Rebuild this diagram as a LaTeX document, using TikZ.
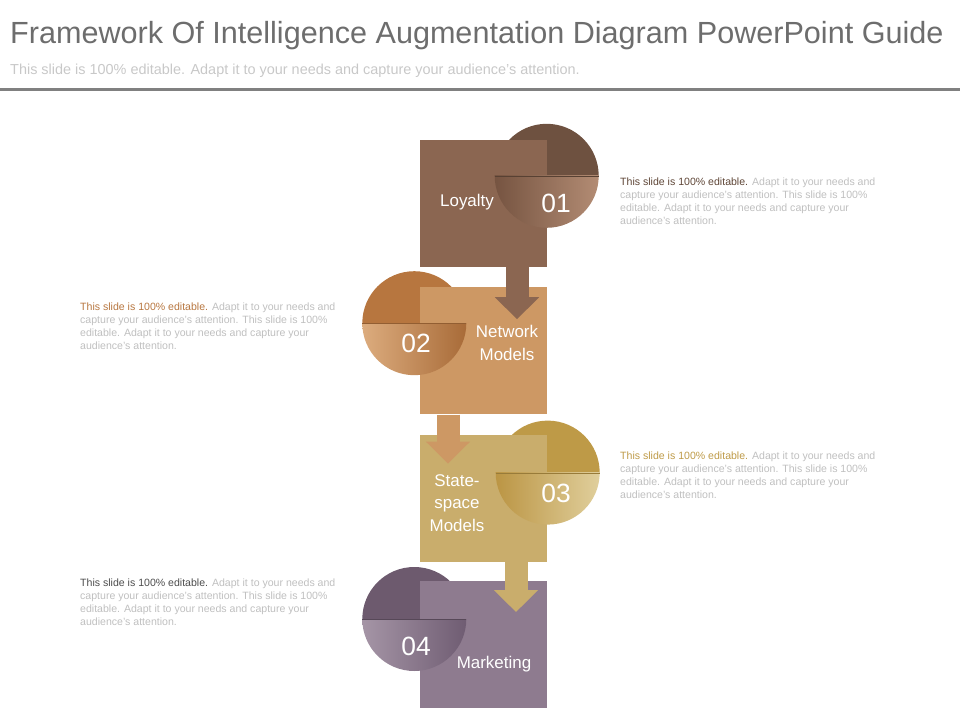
\documentclass[tikz,border=0pt]{standalone}
\usepackage{fontspec}
\setmainfont{Liberation Sans}
\usepackage{xcolor}
\usetikzlibrary{arrows.meta,backgrounds,calc,positioning}

\definecolor{titlegray}{HTML}{6D6D6D}
\definecolor{subgray}{HTML}{C8C8C8}
\definecolor{notegray}{HTML}{BFBFBF}
\definecolor{rulegray}{HTML}{808080}
\definecolor{loyal}{HTML}{8B6651}
\definecolor{loyaldark}{HTML}{6E5140}
\definecolor{loyallight}{HTML}{B38C74}
\definecolor{loyalshade}{HTML}{765441}
\definecolor{network}{HTML}{CD9864}
\definecolor{networkdark}{HTML}{B7763F}
\definecolor{networklight}{HTML}{DCAC7E}
\definecolor{networkshade}{HTML}{A86B38}
\definecolor{state}{HTML}{C9AD6C}
\definecolor{statedark}{HTML}{BE9A47}
\definecolor{statelight}{HTML}{E0CF9C}
\definecolor{stateshade}{HTML}{BB9544}
\definecolor{market}{HTML}{8E7B8F}
\definecolor{marketdark}{HTML}{6D5A6E}
\definecolor{marketlight}{HTML}{A595A6}
\definecolor{marketshade}{HTML}{6F5C72}

\begin{document}
\begin{tikzpicture}[x=1bp,y=-1bp,node distance=20bp]
    \tikzstyle{box}=[rectangle, minimum size=127bp, inner sep=0pt]
    \tikzstyle{flow}=[line width=23bp, -{Triangle[width=43bp,length=22bp]}]
    \tikzstyle{boxtext}=[text=white, align=center, font=\fontsize{17}{22.5}\selectfont]
    \tikzstyle{numtext}=[text=white, font=\fontsize{26.5}{26.5}\selectfont]
    \tikzstyle{note}=[anchor=north west, align=left, inner sep=0pt, text=notegray, font=\fontsize{10.6}{13}\selectfont]

    \useasboundingbox (0,0) rectangle (960,720);

    % heading
    \node[anchor=base west, inner sep=0pt, text=titlegray, font=\fontsize{30.7}{30.7}\selectfont]
      (title) at (10,44) {Framework Of Intelligence Augmentation Diagram PowerPoint Guide};
    \node[anchor=base west, inner sep=0pt, text=subgray, font=\fontsize{14.5}{14.5}\selectfont]
      (subtitle) at (10,75) {This slide is 100\% editable. Adapt it to your needs and capture your audience's attention.};
    \draw[rulegray, line width=3bp] (0,90) -- (960,90);

    % steps
    \node[box, fill=loyal]                      (loyalty) at (483,203.5) {};
    \node[box, fill=network, below=of loyalty]  (network) {};
    \node[box, fill=state, below=of network]    (state) {};
    \node[box, fill=market, below=19bp of state] (market) {};

    \coordinate (c1) at ([yshift=-36bp]loyalty.north east);
    \coordinate (c2) at ([xshift=-5bp,yshift=-36bp]network.north west);
    \coordinate (c3) at ([xshift=1bp,yshift=-38bp]state.north east);
    \coordinate (c4) at ([xshift=-5bp,yshift=-38bp]market.north west);

    % upper halves behind the squares
    \begin{scope}[on background layer]
      \begin{scope}
        \clip ($(c1)+(-53,-53)$) rectangle ($(c1)+(53,0)$);
        \fill[loyaldark] (c1) circle (52);
      \end{scope}
      \begin{scope}
        \clip ($(c2)+(-53,-53)$) rectangle ($(c2)+(53,0)$);
        \fill[networkdark] (c2) circle (52);
      \end{scope}
      \begin{scope}
        \clip ($(c3)+(-53,-53)$) rectangle ($(c3)+(53,0)$);
        \fill[statedark] (c3) circle (52);
      \end{scope}
      \begin{scope}
        \clip ($(c4)+(-53,-53)$) rectangle ($(c4)+(53,0)$);
        \fill[marketdark] (c4) circle (52);
      \end{scope}
    \end{scope}

    % arrows
    \draw[flow, loyal]   ([xshift=34bp]loyalty.south) -- ([xshift=34bp,yshift=-32bp]network.north);
    \draw[flow, network] ([xshift=-35bp]network.south) -- ([xshift=-35bp,yshift=-29bp]state.north);
    \draw[flow, state]   ([xshift=33bp]state.south) -- ([xshift=33bp,yshift=-31bp]market.north);

    % lower halves
    \begin{scope}
      \clip ($(c1)+(-53,0)$) rectangle ($(c1)+(53,53)$);
      \shade[left color=loyalshade, right color=loyallight] (c1) circle (52);
      \draw[loyaldark!80!black, line width=1bp] ($(c1)+(-52,0.5)$) -- ($(c1)+(52,0.5)$);
    \end{scope}
    \begin{scope}
      \clip ($(c2)+(-53,0)$) rectangle ($(c2)+(53,53)$);
      \shade[left color=networklight, right color=networkshade] (c2) circle (52);
      \draw[networkdark!80!black, line width=1bp] ($(c2)+(-52,0.5)$) -- ($(c2)+(52,0.5)$);
    \end{scope}
    \begin{scope}
      \clip ($(c3)+(-53,0)$) rectangle ($(c3)+(53,53)$);
      \shade[left color=stateshade, right color=statelight] (c3) circle (52);
      \draw[statedark!80!black, line width=1bp] ($(c3)+(-52,0.5)$) -- ($(c3)+(52,0.5)$);
    \end{scope}
    \begin{scope}
      \clip ($(c4)+(-53,0)$) rectangle ($(c4)+(53,53)$);
      \shade[left color=marketlight, right color=marketshade] (c4) circle (52);
      \draw[marketdark!80!black, line width=1bp] ($(c4)+(-52,0.5)$) -- ($(c4)+(52,0.5)$);
    \end{scope}

    % texts
    \node[boxtext] (loyaltytext) at (467,202) {Loyalty};
    \node[boxtext] (networktext) at (507,343) {Network\\Models};
    \node[boxtext] (statetext)   at (457,503) {State-\\space\\Models};
    \node[boxtext] (markettext)  at (494,664) {Marketing};

    \node[numtext] (num1) at (556,203) {01};
    \node[numtext] (num2) at (416,343) {02};
    \node[numtext] (num3) at (556,493) {03};
    \node[numtext] (num4) at (416,646) {04};

    \node[note] (note1) at (620,177.5) {\textcolor{loyaldark!85!black}{This slide is 100\% editable.} Adapt it to your needs and\\capture your audience's attention. This slide is 100\%\\editable. Adapt it to your needs and capture your\\audience's attention.};
    \node[note] (note2) at (80,302.5) {\textcolor{networkdark}{This slide is 100\% editable.} Adapt it to your needs and\\capture your audience's attention. This slide is 100\%\\editable. Adapt it to your needs and capture your\\audience's attention.};
    \node[note] (note3) at (620,451.5) {\textcolor{statedark}{This slide is 100\% editable.} Adapt it to your needs and\\capture your audience's attention. This slide is 100\%\\editable. Adapt it to your needs and capture your\\audience's attention.};
    \node[note] (note4) at (80,578.5) {\textcolor{black!70}{This slide is 100\% editable.} Adapt it to your needs and\\capture your audience's attention. This slide is 100\%\\editable. Adapt it to your needs and capture your\\audience's attention.};
\end{tikzpicture}
\end{document}
